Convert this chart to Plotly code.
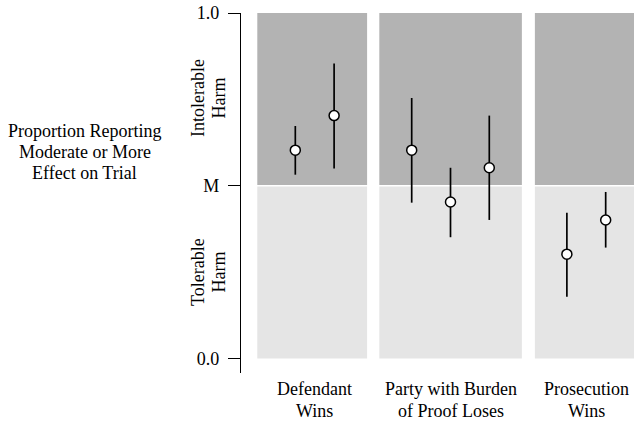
import plotly.graph_objects as go

# ---- data ----
groups = ["Defendant<br>Wins", "Party with Burden<br>of Proof Loses", "Prosecution<br>Wins"]
group_x = [1.5, 5.0, 8.5]
panel_left = [0.02, 3.165, 7.175]
panel_right = [2.85, 6.84, 9.8]

point_x = [1, 2, 4, 5, 6, 8, 9]
estimate = [0.603, 0.703, 0.603, 0.453, 0.552, 0.302, 0.401]
lower = [0.532, 0.550, 0.451, 0.351, 0.401, 0.179, 0.321]
upper = [0.673, 0.854, 0.754, 0.552, 0.703, 0.422, 0.482]

tick_vals = [0.0, 0.5, 1.0]
tick_text = ["0.0", "M", "1.0"]
y_title_lines = ["Proportion Reporting", "Moderate or More", "Effect on Trial"]
upper_zone = ["Intolerable", "Harm"]
lower_zone = ["Tolerable", "Harm"]

FONT = "Liberation Serif, Times New Roman, serif"
W, H = 634, 422
L, R, T, B = 241, 0, 13, 49
PW, PH = W - L - R, H - T - B


def px(xp):
    return (xp - L) / PW


def py(yp):
    return (H - B - yp) / PH


fig = go.Figure()

fig.add_trace(go.Scatter(
    x=point_x, y=estimate, mode="markers",
    marker=dict(symbol="circle", size=10, color="white",
                line=dict(color="black", width=1.5)),
    error_y=dict(type="data", symmetric=False,
                 array=[u - e for u, e in zip(upper, estimate)],
                 arrayminus=[e - l for e, l in zip(estimate, lower)],
                 thickness=1.7, width=0, color="black"),
    showlegend=False, hoverinfo="skip",
))

shapes = []
for x0, x1 in zip(panel_left, panel_right):
    shapes.append(dict(type="rect", xref="x", yref="y", x0=x0, x1=x1, y0=0.502, y1=1.0,
                       fillcolor="#B3B3B3", line=dict(width=0), layer="below"))
    shapes.append(dict(type="rect", xref="x", yref="y", x0=x0, x1=x1, y0=0.0, y1=0.498,
                       fillcolor="#E5E5E5", line=dict(width=0), layer="below"))

annotations = []
# category labels, one line each
line_centers = [389, 410.5]
for g, gx in zip(groups, group_x):
    for k, part in enumerate(g.split("<br>")):
        annotations.append(dict(x=gx, xref="x", y=py(line_centers[k]), yref="paper",
                                text=part, showarrow=False, xanchor="center", yanchor="middle",
                                font=dict(family=FONT, size=18, color="black")))
# y title
for k, part in enumerate(y_title_lines):
    annotations.append(dict(x=px(84.5), xref="paper", y=py(130.5 + 21 * k), yref="paper",
                            text=part, showarrow=False, xanchor="center", yanchor="middle",
                            font=dict(family=FONT, size=18, color="black")))
# zone labels (rotated)
for lines, yc in ((upper_zone, 98), (lower_zone, 272)):
    for k, part in enumerate(lines):
        annotations.append(dict(x=px(198 + 20.5 * k), xref="paper", y=py(yc), yref="paper",
                                text=part, showarrow=False, textangle=-90,
                                xanchor="center", yanchor="middle",
                                font=dict(family=FONT, size=18, color="black")))

fig.update_layout(
    width=W, height=H,
    margin=dict(l=L, r=R, t=T, b=B, pad=0),
    paper_bgcolor="white", plot_bgcolor="white",
    shapes=shapes, annotations=annotations,
    xaxis=dict(range=[-0.40, 9.73], visible=False, fixedrange=True),
    yaxis=dict(range=[-0.042, 1.0], tickvals=tick_vals, ticktext=tick_text,
               showline=True, linecolor="black", linewidth=1.3,
               ticks="outside", ticklen=12, tickwidth=1.3, tickcolor="black",
               ticklabelstandoff=5,
               showgrid=False, zeroline=False, fixedrange=True,
               tickfont=dict(family=FONT, size=18, color="black")),
)

fig.write_html("out.html", config={"displayModeBar": False},
               post_script="document.body.style.margin='0';document.body.style.overflow='hidden';")
